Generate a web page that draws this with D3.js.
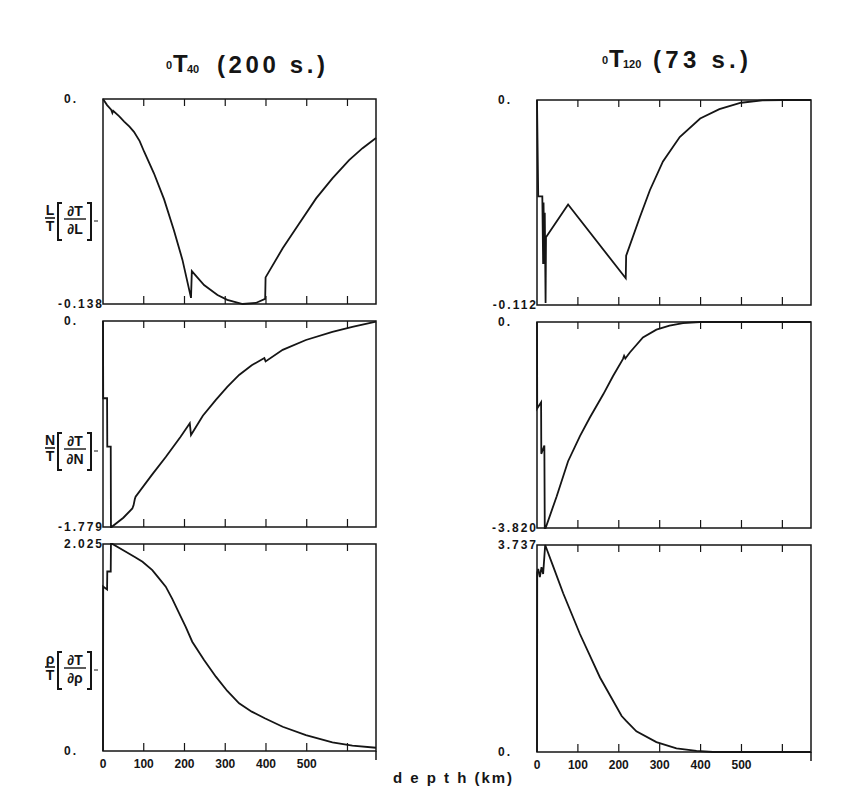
<!DOCTYPE html>
<html>
<head>
<meta charset="utf-8">
<script src="https://cdn.jsdelivr.net/npm/d3@7"></script>
<style>
  body { margin: 0; background: #fff; }
  svg { display: block; font-family: "Liberation Sans", Arial, sans-serif; font-weight: bold; }
</style>
</head>
<body>
<svg id="chart" width="861" height="794"></svg>
<script>
const depthMax = 670;
const depthTicks = [100, 200, 300, 400, 500, 600];
const depthTickLabels = [0, 100, 200, 300, 400, 500];

// 0T40 (200 s.) kernels
const depthL40 = [0, 10, 20, 23, 25, 40, 52, 65, 76, 90, 101, 125, 150, 174, 195, 216, 218, 248, 281, 305, 343, 375, 398, 399, 441, 482, 523, 563, 604, 637, 670];
const kernL40 = [0, -0.0041, -0.0072, -0.0094, -0.0080, -0.0117, -0.0152, -0.0186, -0.0221, -0.0283, -0.0355, -0.0500, -0.0676, -0.0883, -0.1083, -0.1339, -0.1159, -0.1252, -0.1319, -0.1352, -0.138, -0.1373, -0.1346, -0.1201, -0.1005, -0.0836, -0.0669, -0.0534, -0.0411, -0.0331, -0.0262];
const depthN40 = [0, 0.5, 10, 10.5, 19, 19.5, 21, 50, 72, 75, 78, 80, 120, 154, 190, 213, 216, 245, 277, 305, 334, 365, 396, 399, 441, 498, 563, 612, 670];
const kernN40 = [0, -0.667, -0.667, -1.085, -1.085, -1.779, -1.779, -1.699, -1.619, -1.592, -1.539, -1.517, -1.329, -1.174, -1.002, -0.884, -0.984, -0.818, -0.681, -0.569, -0.466, -0.382, -0.320, -0.349, -0.249, -0.164, -0.093, -0.050, -0.005];
const depthR40 = [0, 0.5, 10, 10.5, 19, 19.5, 23, 56, 80, 97, 121, 135, 154, 170, 187, 203, 219, 248, 277, 305, 334, 365, 397, 441, 498, 563, 612, 670];
const kernR40 = [0, 1.608, 1.580, 1.756, 1.756, 2.025, 2.025, 1.950, 1.893, 1.851, 1.770, 1.701, 1.608, 1.488, 1.347, 1.215, 1.069, 0.891, 0.727, 0.587, 0.466, 0.385, 0.320, 0.237, 0.156, 0.085, 0.053, 0.032];

// 0T120 (73 s.) kernels
const depthL120 = [0, 3, 13, 15, 16, 18, 19, 21, 22, 76, 217, 218, 251, 276, 308, 349, 399, 446, 499, 551, 600, 670];
const kernL120 = [0, -0.0526, -0.0526, -0.0896, -0.056, -0.0896, -0.0616, -0.1109, -0.075, -0.0571, -0.0974, -0.0851, -0.0643, -0.0493, -0.0336, -0.0202, -0.0101, -0.005, -0.0015, -0.0002, 0, 0];
const depthN120 = [0, 0.5, 10, 10.5, 18, 19, 21, 48, 76, 105, 129, 162, 186, 210, 213, 216, 227, 259, 292, 324, 357, 398, 670];
const kernN120 = [0, -1.604, -1.490, -2.445, -2.292, -3.820, -3.820, -3.236, -2.582, -2.116, -1.776, -1.341, -1.001, -0.688, -0.626, -0.676, -0.565, -0.287, -0.141, -0.069, -0.019, 0, 0];
const depthR120 = [0, 0.5, 3, 7, 11, 15, 20, 40, 64, 105, 154, 207, 218, 243, 292, 341, 390, 430, 670];
const kernR120 = [0, 3.240, 3.304, 3.158, 3.337, 3.214, 3.737, 3.341, 2.866, 2.130, 1.345, 0.650, 0.561, 0.374, 0.179, 0.064, 0.019, 0, 0];

const rowLabels = ["L", "N", "ρ"];

const colX = [103, 537], colW = [273, 274];
const rowY = [99, 321, 544], rowH = [205, 206, 207];
const labelY = [221, 451, 670];

const panels = [
  {col: 0, row: 0, depth: depthL40, kern: kernL40, lo: -0.138, hi: 0, top: "0.", bot: "-0.138"},
  {col: 0, row: 1, depth: depthN40, kern: kernN40, lo: -1.779, hi: 0, top: "0.", bot: "-1.779"},
  {col: 0, row: 2, depth: depthR40, kern: kernR40, lo: 0, hi: 2.025, top: "2.025", bot: "0."},
  {col: 1, row: 0, depth: depthL120, kern: kernL120, lo: -0.112, hi: 0, top: "0.", bot: "-0.112"},
  {col: 1, row: 1, depth: depthN120, kern: kernN120, lo: -3.820, hi: 0, top: "0.", bot: "-3.820"},
  {col: 1, row: 2, depth: depthR120, kern: kernR120, lo: 0, hi: 3.737, top: "3.737", bot: "0."}
];

const ink = "#151515";
const svg = d3.select("#chart");

panels.forEach(p => {
  const x0 = colX[p.col], y0 = rowY[p.row] + p.col, w = colW[p.col], h = rowH[p.row];
  const x = d3.scaleLinear().domain([0, depthMax]).range([0, w]);
  const y = d3.scaleLinear().domain([p.lo, p.hi]).range([h, 0]);
  const g = svg.append("g").attr("transform", `translate(${x0},${y0})`);

  g.append("rect").attr("width", w).attr("height", h)
    .attr("fill", "none").attr("stroke", ink).attr("stroke-width", 1.5);

  // ticks on top and bottom edge, pointing in
  g.selectAll(".tt").data(depthTicks).enter().append("line")
    .attr("x1", d => x(d)).attr("x2", d => x(d)).attr("y1", 0).attr("y2", 7)
    .attr("stroke", ink).attr("stroke-width", 1.2);
  g.selectAll(".bt").data(depthTicks).enter().append("line")
    .attr("x1", d => x(d)).attr("x2", d => x(d)).attr("y1", h).attr("y2", h - 8)
    .attr("stroke", ink).attr("stroke-width", 1.2);

  const pts = p.depth.map((d, i) => [d, p.kern[i]]);
  g.append("path").datum(pts)
    .attr("d", d3.line().x(d => x(d[0])).y(d => y(d[1])))
    .attr("fill", "none").attr("stroke", ink).attr("stroke-width", 1.8)
    .attr("stroke-linejoin", "miter");

  // value labels
  [[p.top, 0], [p.bot, h]].forEach(([t, yy]) => {
    const zero = t === "0.";
    g.append("text").text(t)
      .attr("x", zero ? -39 : 1).attr("y", yy)
      .attr("dy", "0.35em")
      .attr("text-anchor", zero ? "start" : "end")
      .attr("font-size", 12).attr("letter-spacing", 2)
      .attr("fill", ink);
  });

  if (p.row === 2) {
    g.append("line").attr("x1", w).attr("x2", w).attr("y1", h).attr("y2", h + 9)
      .attr("stroke", ink).attr("stroke-width", 1.5);
    g.selectAll(".xl").data(depthTickLabels).enter().append("text")
      .attr("x", d => x(d)).attr("y", h + 13).attr("dy", "0.35em")
      .attr("text-anchor", "middle").attr("font-size", 12).attr("fill", ink)
      .text(d => d);
  }

  if (p.col === 0) {
    const cy = labelY[p.row] - y0;
    const a = rowLabels[p.row];
    const lab = g.append("g").attr("transform", `translate(-56,${cy})`).attr("fill", ink);
    // outer fraction  a / T
    lab.append("text").attr("x", 3).attr("y", -6).attr("text-anchor", "middle").attr("font-size", 14).text(a);
    lab.append("line").attr("x1", -2).attr("x2", 8).attr("y1", -3).attr("y2", -3).attr("stroke", ink).attr("stroke-width", 1.6);
    lab.append("text").attr("x", 3).attr("y", 10).attr("text-anchor", "middle").attr("font-size", 14).text("T");
    // brackets
    lab.append("path").attr("d", "M15,-18H11V19H15").attr("fill", "none").attr("stroke", ink).attr("stroke-width", 2);
    lab.append("path").attr("d", "M40,-18H44V19H40").attr("fill", "none").attr("stroke", ink).attr("stroke-width", 2);
    // inner fraction  dT / d a
    lab.append("text").attr("x", 28).attr("y", -5).attr("text-anchor", "middle").attr("font-size", 14).text("∂T");
    lab.append("line").attr("x1", 17).attr("x2", 39).attr("y1", -2).attr("y2", -2).attr("stroke", ink).attr("stroke-width", 1.4);
    lab.append("text").attr("x", 28).attr("y", 13).attr("text-anchor", "middle").attr("font-size", 14).text("∂" + a);
    lab.append("line").attr("x1", 47).attr("x2", 51).attr("y1", 0).attr("y2", 0).attr("stroke", ink).attr("stroke-width", 1);
  }
});

// titles
function title(xs, base, sub1, sub2, rest, restLen) {
  svg.append("text").attr("x", xs + 2).attr("y", base - 3).attr("font-size", 11).attr("fill", ink).text(sub1);
  svg.append("text").attr("x", xs + 9).attr("y", base).attr("font-size", 24).attr("fill", ink).text("T");
  svg.append("text").attr("x", xs + 23).attr("y", base + 1).attr("font-size", 11).attr("fill", ink).text(sub2);
  svg.append("text").attr("x", xs + 53).attr("y", base + 1).attr("font-size", 24).attr("fill", ink)
    .attr("textLength", restLen).attr("lengthAdjust", "spacing").text(rest);
}
title(164, 72, "0", "40", "(200 s.)", 108);
title(600, 67, "0", "120", "(73 s.)", 95);

svg.append("text").attr("x", 393).attr("y", 783).attr("font-size", 15).attr("fill", ink)
  .attr("textLength", 119).attr("lengthAdjust", "spacing").text("d e p t h (km)");
</script>
</body>
</html>
